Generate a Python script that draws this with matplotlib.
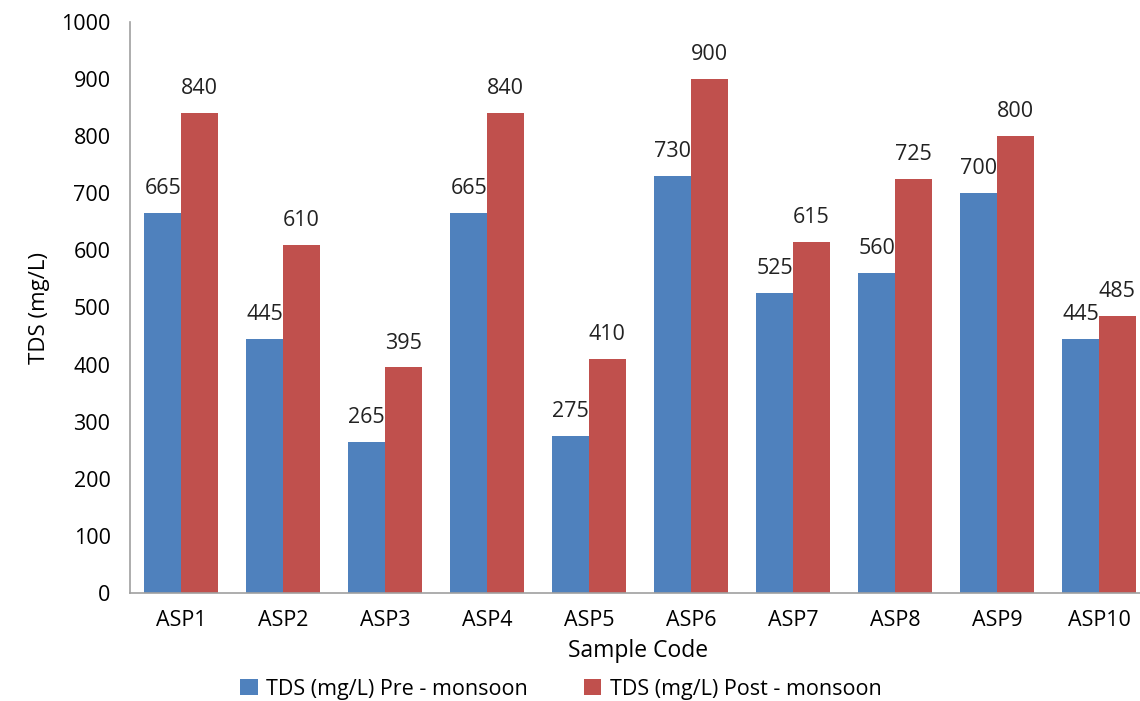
import matplotlib.pyplot as plt
import numpy as np

samples = ["ASP1", "ASP2", "ASP3", "ASP4", "ASP5", "ASP6", "ASP7", "ASP8", "ASP9", "ASP10"]
pre_monsoon = [665, 445, 265, 665, 275, 730, 525, 560, 700, 445]
post_monsoon = [840, 610, 395, 840, 410, 900, 615, 725, 800, 485]

BLUE = "#4F81BD"
RED = "#C0504D"

plt.rcParams["font.family"] = ["Open Sans", "DejaVu Sans"]

fig = plt.figure(figsize=(11.4, 7.01), dpi=100)
ax = fig.add_axes([130 / 1140, 108 / 701, 1020 / 1140, 571 / 701])

x = np.arange(len(samples))
w = 0.36
b1 = ax.bar(x - w / 2, pre_monsoon, w, color=BLUE, label="TDS (mg/L) Pre - monsoon")
b2 = ax.bar(x + w / 2, post_monsoon, w, color=RED, label="TDS (mg/L) Post - monsoon")

for bars in (b1, b2):
    for rect in bars:
        h = rect.get_height()
        ax.annotate(f"{h:.0f}", (rect.get_x() + rect.get_width() / 2, h),
                    textcoords="offset points", xytext=(0, 10),
                    ha="center", va="bottom", fontsize=15.5, color="#222222")

ax.set_xlim(-0.5, len(samples) - 0.5)
ax.set_ylim(0, 1000)
ax.set_yticks(range(0, 1001, 100))
ax.set_xticks(x)
ax.set_xticklabels(samples)
ax.tick_params(axis="both", length=0, labelsize=15.5, colors="black")
ax.tick_params(axis="x", pad=12)
ax.tick_params(axis="y", pad=14)

for side in ("top", "right"):
    ax.spines[side].set_visible(False)
for side in ("left", "bottom"):
    ax.spines[side].set_color("#A0A0A0")
    ax.spines[side].set_linewidth(1.2)

ax.set_ylabel("TDS (mg/L)", fontsize=16, labelpad=8)
fig.text(638 / 1140, 1 - 651 / 701, "Sample Code", ha="center", va="center", fontsize=16.5)

fig.legend(handles=[b1, b2], loc="center", bbox_to_anchor=(561 / 1140, 1 - 689 / 701),
           ncol=2, frameon=False, fontsize=15.5, handlelength=0.8, handleheight=0.8,
           columnspacing=2.6, handletextpad=0.4)

fig.savefig("out.png", dpi=100)
